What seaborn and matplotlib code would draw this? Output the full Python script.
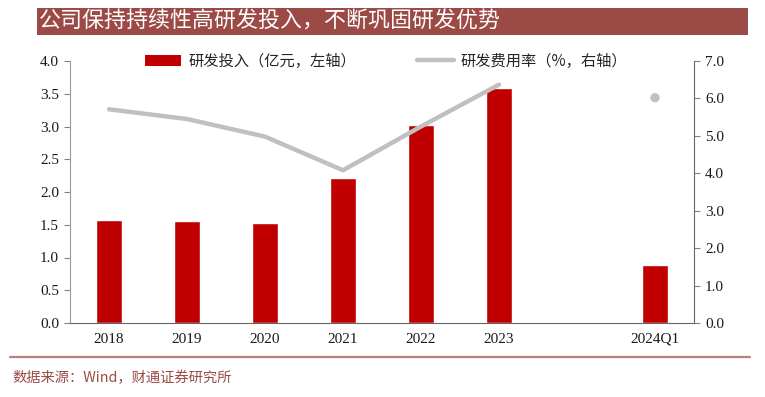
import numpy as np
import pandas as pd
import matplotlib
matplotlib.use("Agg")
from matplotlib import pyplot as plt
from matplotlib.patches import Patch, Rectangle
from matplotlib.lines import Line2D
import seaborn as sns

# data
categories = ["2018", "2019", "2020", "2021", "2022", "2023", "", "2024Q1"]
bar_labels = ["2018", "2019", "2020", "2021", "2022", "2023", "2024Q1"]
rd_spend = [1.57, 1.55, 1.53, 2.21, 3.03, 3.59, 0.88]          # 亿元, left axis
line_labels = ["2018", "2019", "2020", "2021", "2022", "2023"]
rd_rate = [5.71, 5.45, 4.98, 4.08, 5.25, 6.37]                 # %, right axis
dot_label = ["2024Q1"]
dot_rate = [6.02]

RED = "#C00000"
GREY = "#C0C0C0"
BANNER = "#9B4A45"
SERIF = ["Liberation Serif", "Noto Sans CJK SC"]
CJK = ["Noto Sans CJK SC", "Liberation Serif"]

sns.set_style("white")
plt.rcParams["font.family"] = SERIF

fig = plt.figure(figsize=(7.65, 3.97), dpi=100)
W, H = 765, 397
ax = fig.add_axes([70 / W, 1 - 323 / H, (694 - 70) / W, (323 - 61) / H])

df = pd.DataFrame({"cat": bar_labels, "value": rd_spend})
sns.barplot(data=df, x="cat", y="value", order=categories, color=RED,
            saturation=1, width=0.33, ax=ax)
ax.set_xlim(-0.5, 7.5)
ax.set_ylim(0, 4.0)
ax.set_yticks(np.arange(0, 4.01, 0.5))
ax.set_yticklabels([f"{v:.1f}" for v in np.arange(0, 4.01, 0.5)])
ax.set_xlabel("")
ax.set_ylabel("")

ax2 = ax.twinx()
line_x = [categories.index(c) for c in line_labels]
dot_x = [categories.index(c) for c in dot_label]
sns.lineplot(x=line_x, y=rd_rate, color=GREY, linewidth=3.2, ax=ax2)
sns.scatterplot(x=dot_x, y=dot_rate, color=GREY, s=45, edgecolor="none", ax=ax2)
ax2.set_ylim(0, 7.0)
ax2.set_yticks(np.arange(0, 7.01, 1.0))
ax2.set_yticklabels([f"{v:.1f}" for v in np.arange(0, 7.01, 1.0)])
ax2.set_xlim(-0.5, 7.5)

for a in (ax, ax2):
    for s in a.spines.values():
        s.set_visible(False)
    a.tick_params(axis="y", direction="out", length=4, width=0.8,
                  color="#808080", labelsize=11, labelcolor="#1a1a1a")
    a.grid(False)
ax.spines["left"].set_visible(True)
ax.spines["left"].set_color("#999999")
ax.spines["bottom"].set_visible(True)
ax.spines["bottom"].set_color("#666666")
ax2.spines["right"].set_visible(True)
ax2.spines["right"].set_color("#666666")
ax.tick_params(axis="x", length=0, labelsize=11, pad=7, labelcolor="#1a1a1a")
ax.tick_params(axis="y", pad=4)
ax2.tick_params(axis="y", pad=4)

handles = [Patch(facecolor=RED, edgecolor="none"),
           Line2D([0], [0], color=GREY, linewidth=3.2)]
leg = ax.legend(handles, ["研发投入（亿元，左轴）", "研发费用率（%，右轴）"],
                ncol=2, loc="center", bbox_to_anchor=((386 - 70) / 624, 1.0),
                frameon=False, handlelength=2.4, handleheight=0.7,
                columnspacing=4.0, handletextpad=0.45,
                prop={"family": CJK, "size": 11})
leg.set_zorder(5)

# title banner
fig.patches.append(Rectangle((37 / W, 1 - 35 / H), (748 - 37) / W, 27 / H,
                             transform=fig.transFigure, facecolor=BANNER,
                             edgecolor="none", zorder=0))
fig.text(39 / W, 1 - 21.5 / H, "公司保持持续性高研发投入，不断巩固研发优势",
         color="white", fontsize=15.8, va="center", ha="left", family=CJK)

# bottom rule and source
fig.add_artist(Line2D([10 / W, 750 / W], [1 - 357 / H, 1 - 357 / H],
                      transform=fig.transFigure, color="#B97F79", linewidth=1.6))
fig.text(12 / W, 1 - 378 / H, "数据来源：Wind，财通证券研究所", color=BANNER,
         fontsize=10.3, va="center", ha="left", family=CJK)

plt.savefig("out.png", dpi=100)
